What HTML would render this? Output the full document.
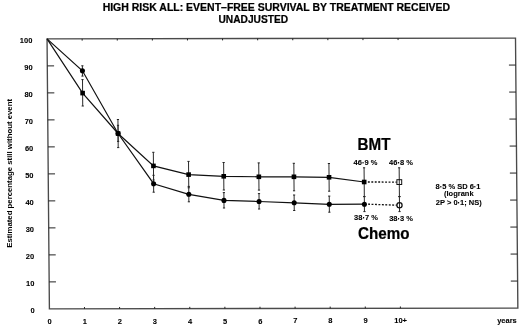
<!DOCTYPE html>
<html><head><meta charset="utf-8"><style>
html,body{margin:0;padding:0;background:#fff;}
svg{display:block;filter:grayscale(1) blur(0.25px);}
text{font-family:"Liberation Sans",sans-serif;fill:#000;stroke:#000;stroke-width:0.22px;}
.t{font-size:7.5px;font-weight:700;stroke-width:0.08px;}
.big{font-size:15.2px;font-weight:700;}
.title{font-size:10.2px;font-weight:700;}
.ylab{font-size:7.8px;font-weight:700;stroke-width:0;}
</style></head><body>
<svg width="520" height="326" viewBox="0 0 520 326">
<rect width="520" height="326" fill="#fff"/>
<polygon points="47.05,38.90 515.50,38.06 517.85,308.06 49.40,308.90" fill="none" stroke="#4a4a4a" stroke-width="1.35"/>
<line x1="47.28" y1="65.90" x2="54.08" y2="65.89" stroke="#222" stroke-width="1"/>
<line x1="515.73" y1="65.06" x2="508.93" y2="65.07" stroke="#222" stroke-width="1"/>
<line x1="47.52" y1="92.90" x2="54.32" y2="92.89" stroke="#222" stroke-width="1"/>
<line x1="515.97" y1="92.06" x2="509.17" y2="92.07" stroke="#222" stroke-width="1"/>
<line x1="47.75" y1="119.90" x2="54.55" y2="119.89" stroke="#222" stroke-width="1"/>
<line x1="516.20" y1="119.06" x2="509.40" y2="119.07" stroke="#222" stroke-width="1"/>
<line x1="47.99" y1="146.90" x2="54.79" y2="146.89" stroke="#222" stroke-width="1"/>
<line x1="516.44" y1="146.06" x2="509.64" y2="146.07" stroke="#222" stroke-width="1"/>
<line x1="48.22" y1="173.90" x2="55.02" y2="173.89" stroke="#222" stroke-width="1"/>
<line x1="516.67" y1="173.06" x2="509.87" y2="173.07" stroke="#222" stroke-width="1"/>
<line x1="48.46" y1="200.90" x2="55.26" y2="200.89" stroke="#222" stroke-width="1"/>
<line x1="516.91" y1="200.06" x2="510.11" y2="200.07" stroke="#222" stroke-width="1"/>
<line x1="48.69" y1="227.90" x2="55.49" y2="227.89" stroke="#222" stroke-width="1"/>
<line x1="517.14" y1="227.06" x2="510.34" y2="227.07" stroke="#222" stroke-width="1"/>
<line x1="48.93" y1="254.90" x2="55.73" y2="254.89" stroke="#222" stroke-width="1"/>
<line x1="517.38" y1="254.06" x2="510.58" y2="254.07" stroke="#222" stroke-width="1"/>
<line x1="49.16" y1="281.90" x2="55.96" y2="281.89" stroke="#222" stroke-width="1"/>
<line x1="517.61" y1="281.06" x2="510.81" y2="281.07" stroke="#222" stroke-width="1"/>
<line x1="84.50" y1="308.84" x2="84.48" y2="307.04" stroke="#222" stroke-width="1"/>
<line x1="82.15" y1="38.84" x2="82.17" y2="40.64" stroke="#222" stroke-width="1"/>
<line x1="119.60" y1="308.77" x2="119.58" y2="306.97" stroke="#222" stroke-width="1"/>
<line x1="117.25" y1="38.77" x2="117.27" y2="40.57" stroke="#222" stroke-width="1"/>
<line x1="154.70" y1="308.71" x2="154.68" y2="306.91" stroke="#222" stroke-width="1"/>
<line x1="152.35" y1="38.71" x2="152.37" y2="40.51" stroke="#222" stroke-width="1"/>
<line x1="189.80" y1="308.65" x2="189.78" y2="306.85" stroke="#222" stroke-width="1"/>
<line x1="187.45" y1="38.65" x2="187.47" y2="40.45" stroke="#222" stroke-width="1"/>
<line x1="224.90" y1="308.58" x2="224.88" y2="306.78" stroke="#222" stroke-width="1"/>
<line x1="222.55" y1="38.58" x2="222.57" y2="40.38" stroke="#222" stroke-width="1"/>
<line x1="260.00" y1="308.52" x2="259.98" y2="306.72" stroke="#222" stroke-width="1"/>
<line x1="257.65" y1="38.52" x2="257.67" y2="40.32" stroke="#222" stroke-width="1"/>
<line x1="295.10" y1="308.46" x2="295.08" y2="306.66" stroke="#222" stroke-width="1"/>
<line x1="292.75" y1="38.46" x2="292.77" y2="40.26" stroke="#222" stroke-width="1"/>
<line x1="330.20" y1="308.39" x2="330.18" y2="306.59" stroke="#222" stroke-width="1"/>
<line x1="327.85" y1="38.39" x2="327.87" y2="40.19" stroke="#222" stroke-width="1"/>
<line x1="365.30" y1="308.33" x2="365.28" y2="306.53" stroke="#222" stroke-width="1"/>
<line x1="362.95" y1="38.33" x2="362.97" y2="40.13" stroke="#222" stroke-width="1"/>
<line x1="400.40" y1="308.27" x2="400.38" y2="306.47" stroke="#222" stroke-width="1"/>
<line x1="398.05" y1="38.27" x2="398.07" y2="40.07" stroke="#222" stroke-width="1"/>
<text x="32.33" y="42.73" text-anchor="end" class="t">100</text>
<text x="32.57" y="69.73" text-anchor="end" class="t">90</text>
<text x="32.80" y="96.73" text-anchor="end" class="t">80</text>
<text x="33.04" y="123.73" text-anchor="end" class="t">70</text>
<text x="33.27" y="150.73" text-anchor="end" class="t">60</text>
<text x="33.51" y="177.73" text-anchor="end" class="t">50</text>
<text x="33.74" y="204.73" text-anchor="end" class="t">40</text>
<text x="33.98" y="231.73" text-anchor="end" class="t">30</text>
<text x="34.21" y="258.73" text-anchor="end" class="t">20</text>
<text x="34.45" y="285.73" text-anchor="end" class="t">10</text>
<text x="34.68" y="312.73" text-anchor="end" class="t">0</text>
<text x="49.63" y="323.90" text-anchor="middle" class="t">0</text>
<text x="84.73" y="323.84" text-anchor="middle" class="t">1</text>
<text x="119.83" y="323.77" text-anchor="middle" class="t">2</text>
<text x="154.93" y="323.71" text-anchor="middle" class="t">3</text>
<text x="190.03" y="323.65" text-anchor="middle" class="t">4</text>
<text x="225.13" y="323.58" text-anchor="middle" class="t">5</text>
<text x="260.23" y="323.52" text-anchor="middle" class="t">6</text>
<text x="295.33" y="323.46" text-anchor="middle" class="t">7</text>
<text x="330.43" y="323.39" text-anchor="middle" class="t">8</text>
<text x="365.53" y="323.33" text-anchor="middle" class="t">9</text>
<text x="400.63" y="323.27" text-anchor="middle" class="t">10+</text>
<text x="507" y="322.5" text-anchor="middle" class="t">years</text>
<line x1="82.38" y1="65.80" x2="82.47" y2="76.10" stroke="#2a2a2a" stroke-width="1"/>
<line x1="81.28" y1="65.80" x2="83.48" y2="65.80" stroke="#222" stroke-width="1"/>
<line x1="81.37" y1="76.10" x2="83.57" y2="76.10" stroke="#222" stroke-width="1"/>
<line x1="82.50" y1="79.60" x2="82.73" y2="106.00" stroke="#2a2a2a" stroke-width="1"/>
<line x1="81.40" y1="79.60" x2="83.60" y2="79.60" stroke="#222" stroke-width="1"/>
<line x1="81.63" y1="106.00" x2="83.83" y2="106.00" stroke="#222" stroke-width="1"/>
<line x1="117.95" y1="119.50" x2="118.20" y2="147.60" stroke="#2a2a2a" stroke-width="1"/>
<line x1="116.85" y1="119.50" x2="119.05" y2="119.50" stroke="#222" stroke-width="1"/>
<line x1="117.10" y1="147.60" x2="119.30" y2="147.60" stroke="#222" stroke-width="1"/>
<line x1="118.00" y1="125.30" x2="118.14" y2="141.40" stroke="#2a2a2a" stroke-width="1"/>
<line x1="116.90" y1="125.30" x2="119.10" y2="125.30" stroke="#222" stroke-width="1"/>
<line x1="117.04" y1="141.40" x2="119.24" y2="141.40" stroke="#222" stroke-width="1"/>
<line x1="153.34" y1="152.30" x2="153.58" y2="180.00" stroke="#2a2a2a" stroke-width="1"/>
<line x1="152.24" y1="152.30" x2="154.44" y2="152.30" stroke="#222" stroke-width="1"/>
<line x1="152.48" y1="180.00" x2="154.68" y2="180.00" stroke="#222" stroke-width="1"/>
<line x1="153.54" y1="175.30" x2="153.68" y2="192.20" stroke="#2a2a2a" stroke-width="1"/>
<line x1="152.44" y1="175.30" x2="154.64" y2="175.30" stroke="#222" stroke-width="1"/>
<line x1="152.58" y1="192.20" x2="154.78" y2="192.20" stroke="#222" stroke-width="1"/>
<line x1="188.52" y1="161.40" x2="188.75" y2="187.80" stroke="#2a2a2a" stroke-width="1"/>
<line x1="187.42" y1="161.40" x2="189.62" y2="161.40" stroke="#222" stroke-width="1"/>
<line x1="187.65" y1="187.80" x2="189.85" y2="187.80" stroke="#222" stroke-width="1"/>
<line x1="188.73" y1="186.40" x2="188.87" y2="201.80" stroke="#2a2a2a" stroke-width="1"/>
<line x1="187.63" y1="186.40" x2="189.83" y2="186.40" stroke="#222" stroke-width="1"/>
<line x1="187.77" y1="201.80" x2="189.97" y2="201.80" stroke="#222" stroke-width="1"/>
<line x1="223.63" y1="162.50" x2="223.86" y2="190.00" stroke="#2a2a2a" stroke-width="1"/>
<line x1="222.53" y1="162.50" x2="224.73" y2="162.50" stroke="#222" stroke-width="1"/>
<line x1="222.76" y1="190.00" x2="224.96" y2="190.00" stroke="#222" stroke-width="1"/>
<line x1="223.89" y1="192.60" x2="224.02" y2="208.00" stroke="#2a2a2a" stroke-width="1"/>
<line x1="222.79" y1="192.60" x2="224.99" y2="192.60" stroke="#222" stroke-width="1"/>
<line x1="222.92" y1="208.00" x2="225.12" y2="208.00" stroke="#222" stroke-width="1"/>
<line x1="258.73" y1="162.90" x2="258.97" y2="190.10" stroke="#2a2a2a" stroke-width="1"/>
<line x1="257.63" y1="162.90" x2="259.83" y2="162.90" stroke="#222" stroke-width="1"/>
<line x1="257.87" y1="190.10" x2="260.07" y2="190.10" stroke="#222" stroke-width="1"/>
<line x1="259.00" y1="193.60" x2="259.13" y2="209.00" stroke="#2a2a2a" stroke-width="1"/>
<line x1="257.90" y1="193.60" x2="260.10" y2="193.60" stroke="#222" stroke-width="1"/>
<line x1="258.03" y1="209.00" x2="260.23" y2="209.00" stroke="#222" stroke-width="1"/>
<line x1="293.83" y1="163.30" x2="294.07" y2="190.80" stroke="#2a2a2a" stroke-width="1"/>
<line x1="292.73" y1="163.30" x2="294.93" y2="163.30" stroke="#222" stroke-width="1"/>
<line x1="292.97" y1="190.80" x2="295.17" y2="190.80" stroke="#222" stroke-width="1"/>
<line x1="294.11" y1="195.00" x2="294.24" y2="210.50" stroke="#2a2a2a" stroke-width="1"/>
<line x1="293.01" y1="195.00" x2="295.21" y2="195.00" stroke="#222" stroke-width="1"/>
<line x1="293.14" y1="210.50" x2="295.34" y2="210.50" stroke="#222" stroke-width="1"/>
<line x1="328.93" y1="163.50" x2="329.18" y2="191.20" stroke="#2a2a2a" stroke-width="1"/>
<line x1="327.83" y1="163.50" x2="330.03" y2="163.50" stroke="#222" stroke-width="1"/>
<line x1="328.08" y1="191.20" x2="330.28" y2="191.20" stroke="#222" stroke-width="1"/>
<line x1="329.22" y1="196.10" x2="329.36" y2="212.20" stroke="#2a2a2a" stroke-width="1"/>
<line x1="328.12" y1="196.10" x2="330.32" y2="196.10" stroke="#222" stroke-width="1"/>
<line x1="328.26" y1="212.20" x2="330.46" y2="212.20" stroke="#222" stroke-width="1"/>
<line x1="364.07" y1="167.80" x2="364.32" y2="196.60" stroke="#2a2a2a" stroke-width="1"/>
<line x1="362.97" y1="167.80" x2="365.17" y2="167.80" stroke="#222" stroke-width="1"/>
<line x1="363.22" y1="196.60" x2="365.42" y2="196.60" stroke="#222" stroke-width="1"/>
<line x1="364.32" y1="196.60" x2="364.45" y2="211.60" stroke="#2a2a2a" stroke-width="1"/>
<line x1="363.22" y1="196.60" x2="365.42" y2="196.60" stroke="#222" stroke-width="1"/>
<line x1="363.35" y1="211.60" x2="365.55" y2="211.60" stroke="#222" stroke-width="1"/>
<line x1="399.17" y1="167.80" x2="399.42" y2="196.60" stroke="#2a2a2a" stroke-width="1"/>
<line x1="398.07" y1="167.80" x2="400.27" y2="167.80" stroke="#222" stroke-width="1"/>
<line x1="398.32" y1="196.60" x2="400.52" y2="196.60" stroke="#222" stroke-width="1"/>
<line x1="399.42" y1="196.60" x2="399.55" y2="211.60" stroke="#2a2a2a" stroke-width="1"/>
<line x1="398.32" y1="196.60" x2="400.52" y2="196.60" stroke="#222" stroke-width="1"/>
<line x1="398.45" y1="211.60" x2="400.65" y2="211.60" stroke="#222" stroke-width="1"/>
<polyline points="47.05,38.90 82.62,93.10 118.07,133.50 153.45,165.90 188.63,174.60 223.75,176.30 258.85,176.80 293.95,176.80 329.05,177.30 364.19,182.00" fill="none" stroke="#111" stroke-width="1.2"/>
<polyline points="47.05,38.90 82.43,70.80 118.07,133.50 153.61,183.70 188.80,194.30 223.96,200.40 259.06,201.50 294.18,202.80 329.29,204.30 364.39,204.20" fill="none" stroke="#111" stroke-width="1.2"/>
<line x1="367.89" y1="182.00" x2="396.70" y2="182.10" stroke="#111" stroke-width="1.35" stroke-dasharray="1.9 1.55"/>
<line x1="368.09" y1="204.20" x2="396.90" y2="205.20" stroke="#111" stroke-width="1.35" stroke-dasharray="1.9 1.55"/>
<rect x="80.32" y="90.80" width="4.6" height="4.6" fill="#000"/>
<rect x="115.77" y="131.20" width="4.6" height="4.6" fill="#000"/>
<rect x="151.15" y="163.60" width="4.6" height="4.6" fill="#000"/>
<rect x="186.33" y="172.30" width="4.6" height="4.6" fill="#000"/>
<rect x="221.45" y="174.00" width="4.6" height="4.6" fill="#000"/>
<rect x="256.55" y="174.50" width="4.6" height="4.6" fill="#000"/>
<rect x="291.65" y="174.50" width="4.6" height="4.6" fill="#000"/>
<rect x="326.75" y="175.00" width="4.6" height="4.6" fill="#000"/>
<rect x="361.89" y="179.70" width="4.6" height="4.6" fill="#000"/>
<circle cx="82.43" cy="70.80" r="2.55" fill="#000"/>
<circle cx="118.07" cy="133.50" r="2.55" fill="#000"/>
<circle cx="153.61" cy="183.70" r="2.55" fill="#000"/>
<circle cx="188.80" cy="194.30" r="2.55" fill="#000"/>
<circle cx="223.96" cy="200.40" r="2.55" fill="#000"/>
<circle cx="259.06" cy="201.50" r="2.55" fill="#000"/>
<circle cx="294.18" cy="202.80" r="2.55" fill="#000"/>
<circle cx="329.29" cy="204.30" r="2.55" fill="#000"/>
<circle cx="364.39" cy="204.20" r="2.55" fill="#000"/>
<rect x="396.90" y="179.70" width="4.8" height="4.8" fill="none" stroke="#111" stroke-width="1"/>
<circle cx="399.50" cy="205.20" r="2.6" fill="none" stroke="#111" stroke-width="1.25"/>
<text transform="translate(374,149.6) scale(1,1.05)" text-anchor="middle" class="big">BMT</text>
<text transform="translate(383.7,238.5) scale(1,1.08)" text-anchor="middle" class="big">Chemo</text>
<text x="365.5" y="165.1" text-anchor="middle" class="t">46·9 %</text>
<text x="401" y="165.1" text-anchor="middle" class="t">46·8 %</text>
<text x="366" y="219.5" text-anchor="middle" class="t">38·7 %</text>
<text x="401.1" y="221" text-anchor="middle" class="t">38·3 %</text>
<text x="458" y="189.2" text-anchor="middle" class="t">8·5 % SD 6·1</text>
<text x="458.8" y="196.3" text-anchor="middle" class="t">(logrank</text>
<text x="458.8" y="204.6" text-anchor="middle" class="t">2P &gt; 0·1; NS)</text>
<text x="276.4" y="10.9" text-anchor="middle" class="title" textLength="347.5" lengthAdjust="spacingAndGlyphs">HIGH RISK ALL: EVENT–FREE SURVIVAL BY TREATMENT RECEIVED</text>
<text x="253.3" y="22.8" text-anchor="middle" class="title">UNADJUSTED</text>
<text transform="translate(12.3,173.4) rotate(-90)" text-anchor="middle" class="ylab" textLength="148.8" lengthAdjust="spacingAndGlyphs">Estimated percentage still without event</text>
</svg>
</body></html>
